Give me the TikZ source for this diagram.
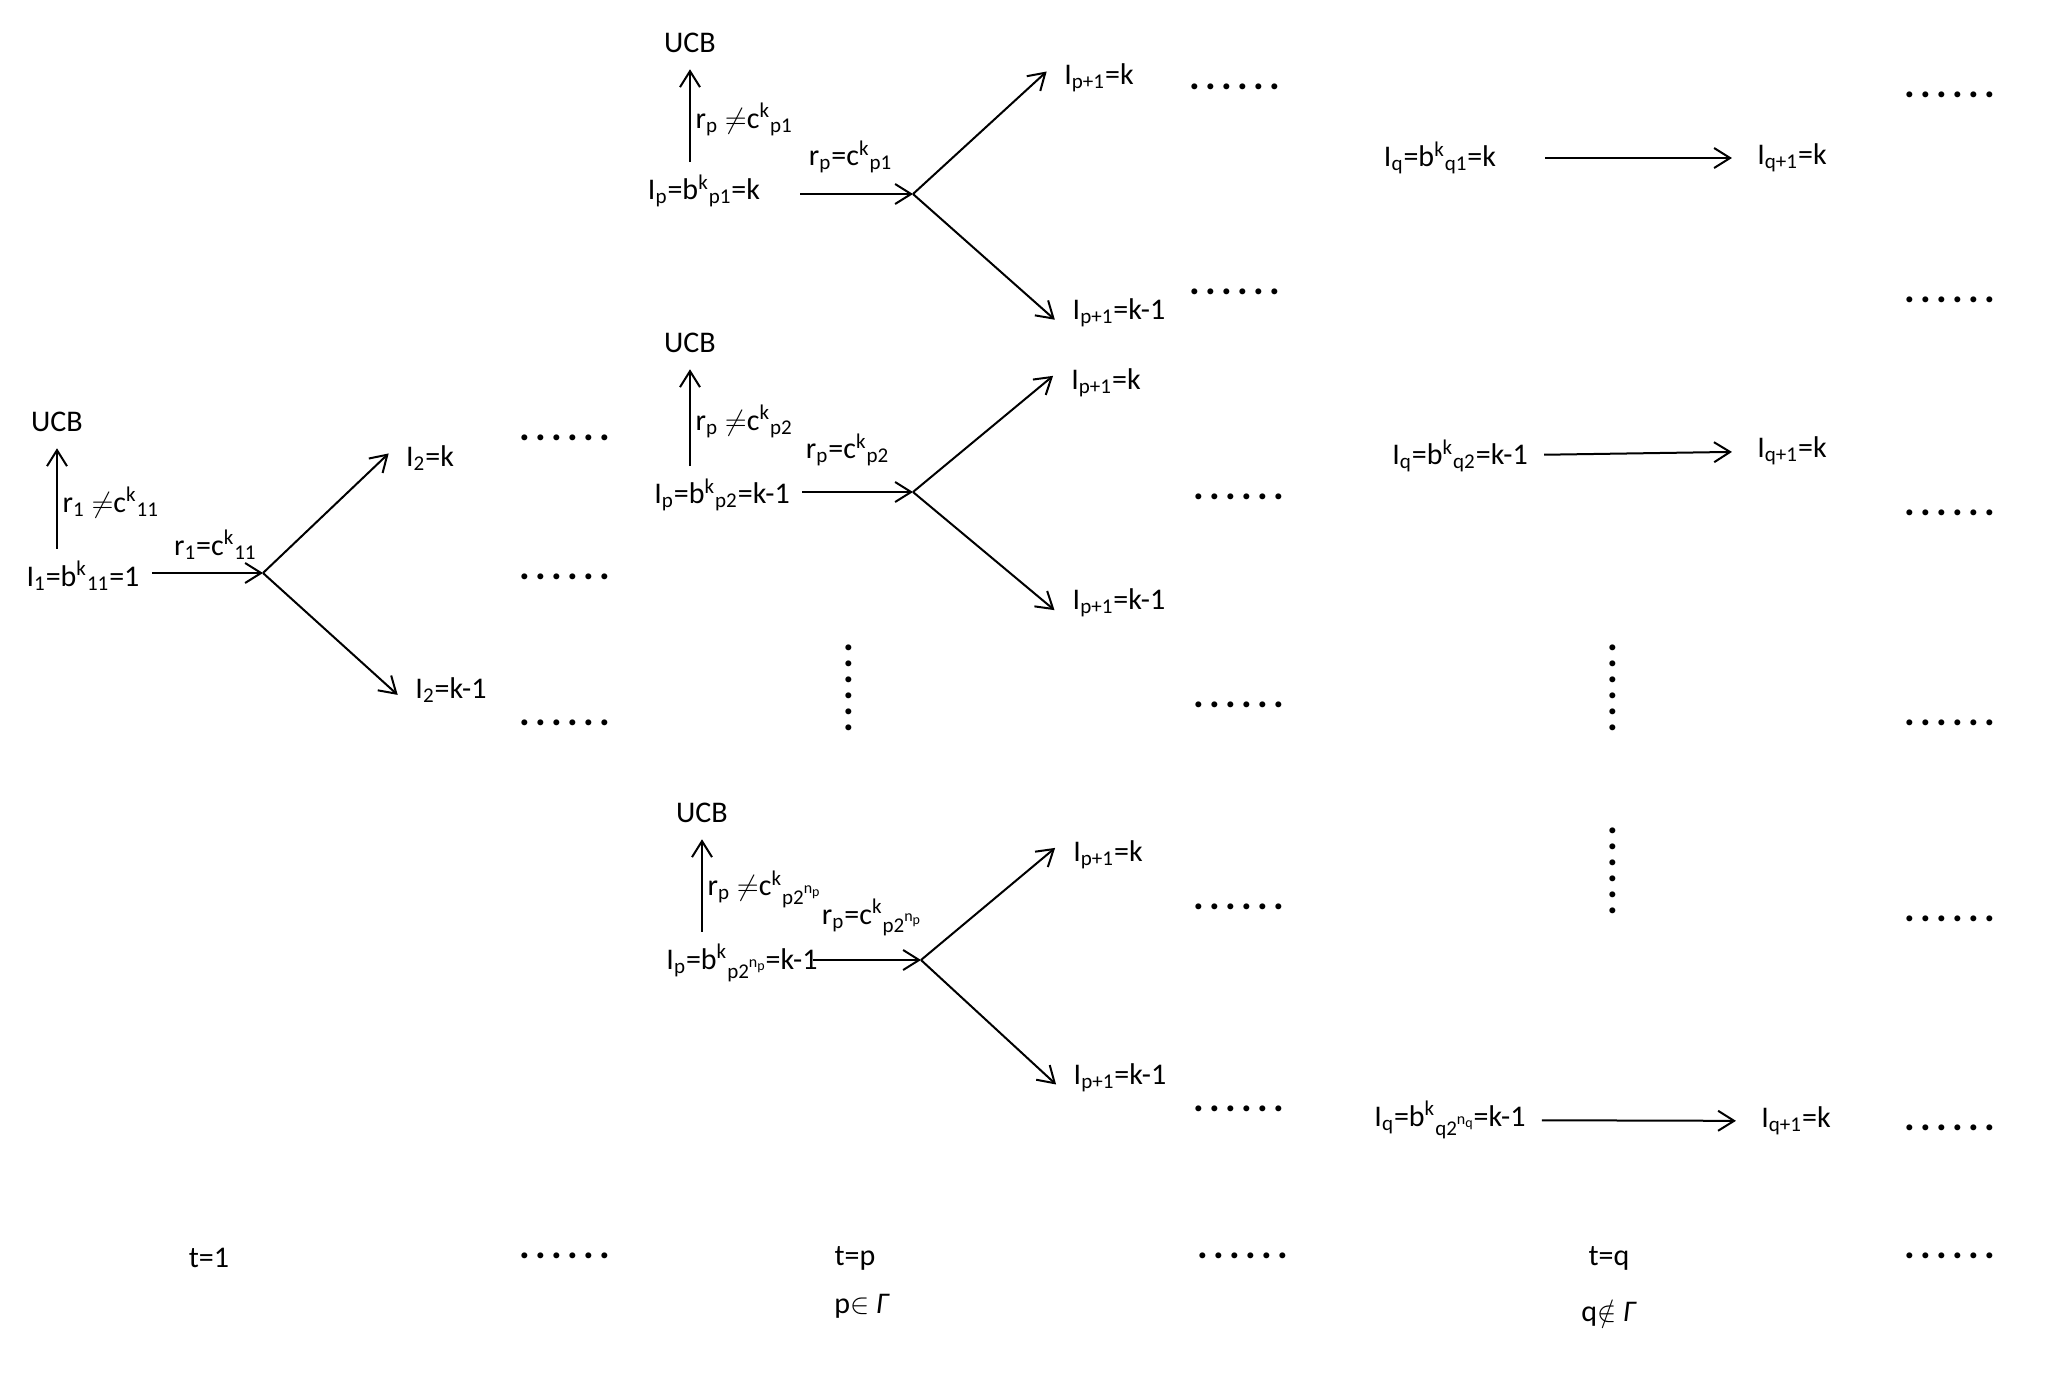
\documentclass[tikz,border=0pt]{standalone}
\usepackage{fontspec}
\setmainfont{Carlito}
\usetikzlibrary{arrows.meta}

\newcommand{\subtx}[1]{\textsubscript{#1}}
\newcommand{\suptx}[1]{\textsuperscript{#1}}
\newcommand{\npw}[1]{\raisebox{5.5pt}{\fontsize{8}{9}\selectfont n\raisebox{-1.5pt}{\fontsize{7}{8}\selectfont #1}}}
\newcommand{\sixdots}{{\bfseries\fontsize{20}{20}\selectfont .\kern2.7pt.\kern2.7pt.\kern2.7pt.\kern2.7pt.\kern2.7pt.}}

\begin{document}
\begin{tikzpicture}[x=0.5pt, y=-0.5pt, font=\fontsize{15}{18}\selectfont,
  main/.style={inner sep=2pt},
  arr/.style={line width=1pt, -{Straight Barb[length=8pt,width=10pt]}},
  upa/.style={arr, shorten <=4pt, shorten >=6pt},
  br/.style={arr, shorten >=9pt},
  dots/.style={inner sep=0pt},
  vdots/.style={inner sep=0pt, align=center, font=\bfseries\fontsize{20}{8}\selectfont}]
\useasboundingbox (0,0) rectangle (2046,1372);

% t=1
\node[main] (ucb1) at (57,422) {UCB};
\node[main] (i1) at (83,576) {I\subtx{1}=b\suptx{k}\subtx{11}=1};
\coordinate (b1) at (263,573);
\node[main] (i2a) at (430,458) {I\subtx{2}=k};
\node[main] (i2b) at (451,690) {I\subtx{2}=k-1};
\draw[upa] (i1.north -| ucb1) -- node[pos=0.45, right=-1pt] {r\subtx{1} $\neq$c\suptx{k}\subtx{11}} (ucb1.south);
\draw[arr, shorten <=4pt] (i1.east |- b1) -- node[pos=0.6, above=3pt] {r\subtx{1}=c\suptx{k}\subtx{11}} (b1);
\draw[br] (b1) -- (i2a.north west);
\draw[br] (b1) -- (i2b.south west);

% t=p, first case
\node[main] (ucbp1) at (690,43) {UCB};
\node[main] (ip1) at (704,191) {I\subtx{p}=b\suptx{k}\subtx{p1}=k};
\coordinate (bp1) at (913,194);
\node[main] (ip1a) at (1099,78) {I\subtx{p+1}=k};
\node[main] (ip1b) at (1119,313) {I\subtx{p+1}=k-1};
\draw[upa] (ip1.north -| ucbp1) -- node[pos=0.45, right=-1pt] {r\subtx{p} $\neq$c\suptx{k}\subtx{p1}} (ucbp1.south);
\draw[arr, shorten <=18pt] (ip1.east |- bp1) -- node[pos=0.58, above=6.5pt] {r\subtx{p}=c\suptx{k}\subtx{p1}} (bp1);
\draw[br] (bp1) -- (ip1a.north west);
\draw[br] (bp1) -- (ip1b.south west);

% t=p, second case
\node[main] (ucbp2) at (690,343) {UCB};
\node[main] (ip2) at (722,495) {I\subtx{p}=b\suptx{k}\subtx{p2}=k-1};
\coordinate (bp2) at (913,492);
\node[main] (ip2a) at (1106,383) {I\subtx{p+1}=k};
\node[main] (ip2b) at (1119,603) {I\subtx{p+1}=k-1};
\draw[upa] (ip2.north -| ucbp2) -- node[pos=0.45, right=-1pt] {r\subtx{p} $\neq$c\suptx{k}\subtx{p2}} (ucbp2.south);
\draw[arr, shorten <=4pt] (ip2.east |- bp2) -- node[pos=0.45, above=9pt] {r\subtx{p}=c\suptx{k}\subtx{p2}} (bp2);
\draw[br] (bp2) -- (ip2a.north west);
\draw[br] (bp2) -- (ip2b.south west);

\node[vdots] (vp) at (849,688) {.\\.\\.\\.\\.\\.};

% t=p, last case
\node[main] (ucbp3) at (702,813) {UCB};
\node[main] (ip3) at (742,963) {I\subtx{p}=b\suptx{k}\subtx{p2\npw{p}}=k-1};
\coordinate (bp3) at (921,960);
\node[main] (ip3a) at (1108,855) {I\subtx{p+1}=k};
\node[main] (ip3b) at (1120,1078) {I\subtx{p+1}=k-1};
\draw[upa] (ip3.north -| ucbp3) -- node[pos=0.45, right=-1pt] {r\subtx{p} $\neq$c\suptx{k}\subtx{p2\npw{p}}} (ucbp3.south);
\draw[arr, shorten <=-4.5pt] (ip3.east |- bp3) -- node[above=8pt] {r\subtx{p}=c\suptx{k}\subtx{p2\npw{p}}} (bp3);
\draw[br] (bp3) -- (ip3a.north west);
\draw[br] (bp3) -- (ip3b.south west);

% t=q
\node[main] (iq1) at (1440,158) {I\subtx{q}=b\suptx{k}\subtx{q1}=k};
\node[main] (jq1) at (1792,158) {I\subtx{q+1}=k};
\node[main] (iq2) at (1460,456) {I\subtx{q}=b\suptx{k}\subtx{q2}=k-1};
\node[main] (jq2) at (1792,451) {I\subtx{q+1}=k};
\node[main] (iq3) at (1450,1120) {I\subtx{q}=b\suptx{k}\subtx{q2\npw{q}}=k-1};
\node[main] (jq3) at (1796,1121) {I\subtx{q+1}=k};
\draw[arr, shorten <=22.5pt, shorten >=10.5pt] (iq1) -- (jq1);
\draw[arr, shorten <=6pt, shorten >=10.5pt] (iq2) -- (jq2);
\draw[arr, shorten <=6pt, shorten >=10.5pt] (iq3) -- (jq3);

\node[vdots] (vq1) at (1613,688) {.\\.\\.\\.\\.\\.};
\node[vdots] (vq2) at (1613,871) {.\\.\\.\\.\\.\\.};

% dots
\node[dots] (d11) at (565,438) {\sixdots};
\node[dots] (d12) at (565,577) {\sixdots};
\node[dots] (d13) at (565,723) {\sixdots};
\node[dots] (d14) at (565,1256) {\sixdots};
\node[dots] (d21) at (1235,87) {\sixdots};
\node[dots] (d22) at (1235,292) {\sixdots};
\node[dots] (d23) at (1239,497) {\sixdots};
\node[dots] (d24) at (1239,705) {\sixdots};
\node[dots] (d25) at (1239,907) {\sixdots};
\node[dots] (d26) at (1239,1109) {\sixdots};
\node[dots] (d27) at (1243,1256) {\sixdots};
\node[dots] (d31) at (1950,95) {\sixdots};
\node[dots] (d32) at (1950,300) {\sixdots};
\node[dots] (d33) at (1950,513) {\sixdots};
\node[dots] (d34) at (1950,723) {\sixdots};
\node[dots] (d35) at (1950,919) {\sixdots};
\node[dots] (d36) at (1950,1128) {\sixdots};
\node[dots] (d37) at (1950,1256) {\sixdots};

% time labels
\node[main] (t1) at (209,1258) {t=1};
\node[main] (tp) at (855,1258) {t=p};
\node[main] (pin) at (862,1306) {p$\in$ \textit{Γ}};
\node[main] (tq) at (1609,1258) {t=q};
\node[main] (qin) at (1609,1313) {q$\notin$ \textit{Γ}};
\end{tikzpicture}
\end{document}
